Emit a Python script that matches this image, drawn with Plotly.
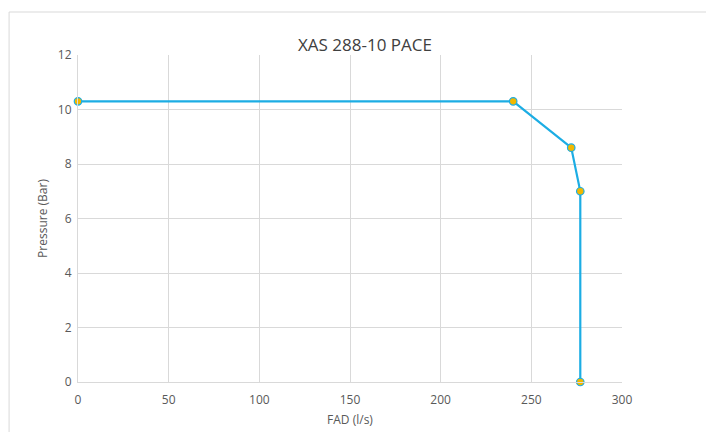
import plotly.graph_objects as go

fad = [0, 240, 272, 277, 277]
pressure = [10.3, 10.3, 8.6, 7.0, 0]
x_ticks = [0, 50, 100, 150, 200, 250, 300]
y_ticks = [0, 2, 4, 6, 8, 10, 12]
title = "XAS 288-10 PACE"

fig = go.Figure()
fig.add_trace(go.Scatter(
    x=fad, y=pressure, mode="lines+markers",
    line=dict(color="#1cade4", width=2.2),
    marker=dict(color="#f2b800", size=7.5, line=dict(color="#1cade4", width=1.2)),
    showlegend=False, cliponaxis=False,
))

# page renders with an 8px offset; compensate
off = 8
W, H = 714, 432
l, r, t, b = 78 - off, 92 + off, 55 - off, 50 + off
pw, ph = W - l - r, H - t - b

fig.update_layout(
    width=W, height=H,
    margin=dict(l=l, r=r, t=t, b=b),
    paper_bgcolor="white", plot_bgcolor="white",
    font=dict(family="Open Sans, Liberation Sans, sans-serif", color="#595959", size=12),
    title=dict(text=title, x=(365 - off - l) / pw, xanchor="center", xref="paper",
               y=(H - (45 - off)) / H, yanchor="middle",
               font=dict(size=17, color="#404040")),
    xaxis=dict(range=[0, 300], tickvals=x_ticks, showgrid=True, gridcolor="#d9d9d9",
               gridwidth=1, zeroline=False, showline=True, linecolor="#d9d9d9",
               mirror=False, ticks="", ticklabelstandoff=7,
               title=dict(text="FAD (l/s)", standoff=8,
               font=dict(size=12, color="#595959"))),
    yaxis=dict(range=[0, 12], tickvals=y_ticks, showgrid=True, gridcolor="#d9d9d9",
               gridwidth=1, zeroline=False, showline=True, linecolor="#d9d9d9",
               ticks="", ticklabelstandoff=3,
               title=dict(text="Pressure (Bar)", standoff=7,
               font=dict(size=12, color="#595959"))),
    shapes=[dict(type="rect", xref="paper", yref="paper",
                 x0=(8 - off - l) / pw + 0.002, x1=(710 - off - l) / pw,
                 y0=-0.3, y1=(H - b - (12 - off)) / ph,
                 line=dict(color="#d9d9d9", width=1), layer="below")],
)

fig.write_html("out.html")
